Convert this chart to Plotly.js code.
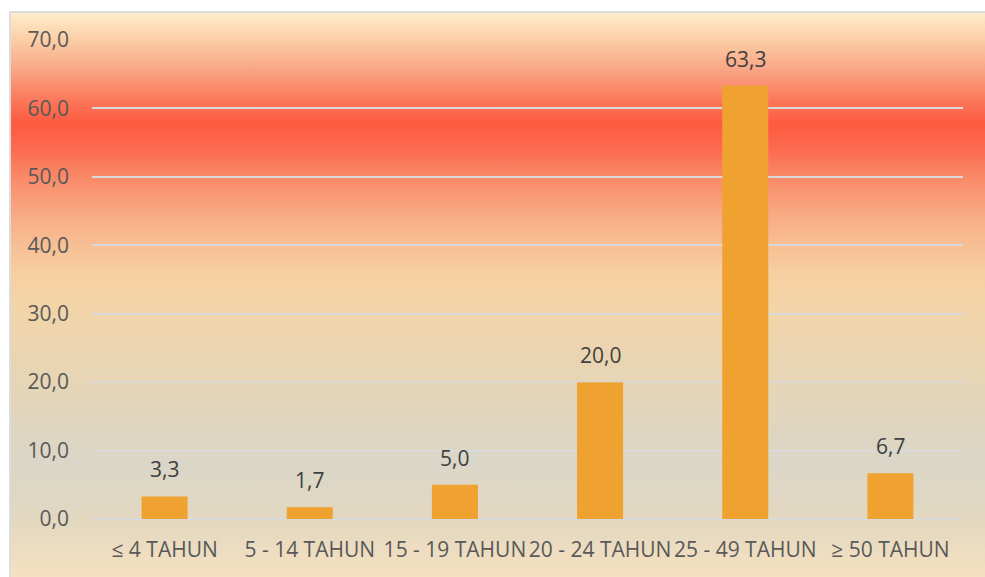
<!DOCTYPE html>
<html>
<head>
<meta charset="utf-8">
<script src="https://cdn.plot.ly/plotly-3.0.1.min.js"></script>
<style>
  html, body { margin: 0; padding: 0; background: #ffffff; }
  #wrap { position: relative; width: 985px; height: 577px; overflow: hidden; }
  #bg {
    position: absolute; left: 9px; top: 11px; right: 0; bottom: 0;
    border-left: 2px solid #DCDCDC; border-top: 2px solid #DCDCDC;
    background: linear-gradient(to bottom,
      #FEEDCB 0px,
      #FBCBA3 29px,
      #F9A283 59px,
      #FC7558 89px,
      #FE5A40 111px,
      #FB6D52 139px,
      #F98E6C 169px,
      #F8B08A 209px,
      #F6CFA0 259px,
      #F3D4A7 289px,
      #E6D5B6 369px,
      #DAD6C7 449px,
      #E3D8C0 509px,
      #F7E1C1 566px);
  }
  #chart { position: absolute; left: 0; top: 0; width: 985px; height: 577px; }
</style>
</head>
<body>
<div id="wrap">
  <div id="bg"></div>
  <div id="chart"></div>
</div>
<script>
const categories = ["≤ 4 TAHUN", "5 - 14 TAHUN", "15 - 19 TAHUN", "20 - 24 TAHUN", "25 - 49 TAHUN", "≥ 50 TAHUN"];
const values = [3.3, 1.7, 5.0, 20.0, 63.3, 6.7];
const valueLabels = ["3,3", "1,7", "5,0", "20,0", "63,3", "6,7"];

const trace = {
  type: "bar",
  x: categories,
  y: values,
  marker: { color: "#EFA22F" },
  hoverinfo: "x+y"
};

const annotations = categories.map((c, i) => ({
  x: c, y: values[i], xref: "x", yref: "y",
  text: valueLabels[i], showarrow: false,
  yanchor: "bottom", yshift: 11,
  font: { family: "Open Sans, sans-serif", size: 21, color: "#404040" }
}));

const layout = {
  width: 985, height: 577,
  margin: { l: 92, r: 22, t: 40, b: 58 },
  paper_bgcolor: "rgba(0,0,0,0)",
  plot_bgcolor: "rgba(0,0,0,0)",
  separators: ",.",
  bargap: 0.683,
  showlegend: false,
  font: { family: "Open Sans, sans-serif", size: 21, color: "#595959" },
  xaxis: {
    type: "category",
    showgrid: false, zeroline: false, showline: false,
    ticks: "", ticklabelstandoff: 16,
    tickfont: { family: "Open Sans, sans-serif", size: 21, color: "#595959" }
  },
  yaxis: {
    range: [0, 70], dtick: 10, tick0: 0,
    tickformat: ".1f",
    showgrid: true, gridcolor: "#D9D9D9", gridwidth: 2,
    zeroline: true, zerolinecolor: "#D9D9D9", zerolinewidth: 2,
    showline: false, ticks: "", ticklabelstandoff: 22,
    tickfont: { family: "Open Sans, sans-serif", size: 21, color: "#595959" }
  },
  annotations: annotations
};

Plotly.newPlot("chart", [trace], layout, { displayModeBar: false, staticPlot: true });
</script>
</body>
</html>
